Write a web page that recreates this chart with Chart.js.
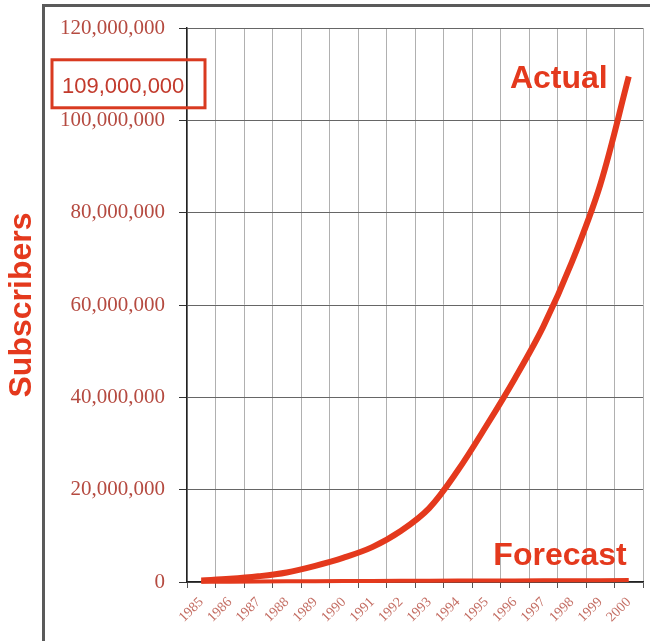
<!DOCTYPE html>
<html>
<head>
<meta charset="utf-8">
<script src="https://cdn.jsdelivr.net/npm/chart.js@4.4.1/dist/chart.umd.min.js"></script>
<style>
  html, body { margin: 0; padding: 0; background: #fff; overflow: hidden; }
  #wrap { position: relative; width: 650px; height: 641px; }
  #frame {
    position: absolute; left: 42px; top: 4px; width: 700px; height: 700px;
    border-left: 3px solid #5a5a5a; border-top: 3px solid #5a5a5a;
    pointer-events: none;
  }
</style>
</head>
<body>
<div id="wrap">
  <canvas id="chartSubs" width="650" height="641"></canvas>
  <div id="frame"></div>
</div>
<script>
// years on the x axis
var years = ['1985', '1986', '1987', '1988', '1989', '1990', '1991', '1992',
             '1993', '1994', '1995', '1996', '1997', '1998', '1999', '2000'];
// actual subscribers
var actual = [340000, 682000, 1231000, 2069000, 3509000, 5283000, 7557000, 11033000,
              16009000, 24134000, 33786000, 44043000, 55312000, 69209000, 86047000, 109478000];
// forecast subscribers (barely above zero)
var forecast = [50000, 80000, 110000, 140000, 170000, 200000, 220000, 250000,
                270000, 300000, 320000, 340000, 360000, 380000, 400000, 420000];
var yTicks = [0, 20000000, 40000000, 60000000, 80000000, 100000000, 120000000];
var calloutValue = 109000000;
var calloutText = '109,000,000';

var red = '#e4391d';

var labelsPlugin = {
  id: 'labelsPlugin',
  afterDraw: function(chart) {
    var c = chart.ctx, xs = chart.scales.x, ys = chart.scales.y;
    var last = years.length - 1;
    c.save();
    c.fillStyle = red;
    c.font = 'bold 32px "Liberation Sans", Arial, sans-serif';
    c.textAlign = 'right';
    c.textBaseline = 'alphabetic';
    c.fillText('Actual', xs.getPixelForValue(last) - 21, ys.getPixelForValue(107000000));
    c.fillText('Forecast', xs.getPixelForValue(last) - 2, ys.getPixelForValue(3700000));

    // boxed callout of the final value
    var cy = ys.getPixelForValue(calloutValue) + 5;
    c.strokeStyle = '#d93a20';
    c.lineWidth = 3;
    c.strokeRect(xs.left - 135, cy - 24, 153, 48);
    c.fillStyle = '#c23a2c';
    c.font = '22px "Liberation Sans", Arial, sans-serif';
    c.textAlign = 'left';
    c.fillText(calloutText, xs.left - 125, cy + 9);
    c.restore();
  }
};

var ctx = document.getElementById('chartSubs').getContext('2d');
var chartSubs = new Chart(ctx, {
  type: 'line',
  data: {
    labels: years,
    datasets: [{
      label: 'Forecast',
      data: forecast,
      borderColor: red,
      borderWidth: 4,
      pointRadius: 0,
      tension: 0,
      clip: false
    }, {
      label: 'Actual',
      data: actual,
      borderColor: red,
      borderWidth: 6,
      pointRadius: 0,
      tension: 0.35,
      clip: false
    }]
  },
  options: {
    responsive: false,
    animation: false,
    layout: { padding: { top: 28, right: 7, left: 0, bottom: 0 } },
    plugins: {
      legend: { display: false },
      tooltip: { enabled: false }
    },
    scales: {
      x: {
        offset: true,
        grid: { offset: true, color: '#b0b0b0', lineWidth: 1, tickLength: 6, tickColor: '#555' },
        border: { color: '#222', width: 1.5 },
        ticks: {
          autoSkip: false, minRotation: 45, maxRotation: 45, padding: 6,
          color: '#c46e64',
          font: { family: '"Liberation Serif", "Times New Roman", serif', size: 14 }
        },
        afterFit: function(scale) { scale.height = 59; }
      },
      y: {
        min: 0, max: 120000000,
        afterBuildTicks: function(scale) {
          scale.ticks = yTicks.map(function(v) { return { value: v }; });
        },
        grid: { color: '#666', lineWidth: 1, tickLength: 8, tickColor: '#333' },
        border: { color: '#222', width: 1.5 },
        ticks: {
          padding: 14,
          color: '#b54a40',
          font: { family: '"Liberation Serif", "Times New Roman", serif', size: 21 },
          callback: function(v) { return Number(v).toLocaleString('en-US'); }
        },
        title: {
          display: true,
          text: 'Subscribers',
          color: red,
          padding: { top: 3, bottom: 0 },
          font: { family: '"Liberation Sans", Arial, sans-serif', size: 32, weight: 'bold' }
        },
        afterFit: function(scale) { scale.width = 187; }
      }
    }
  },
  plugins: [labelsPlugin]
});
</script>
</body>
</html>
